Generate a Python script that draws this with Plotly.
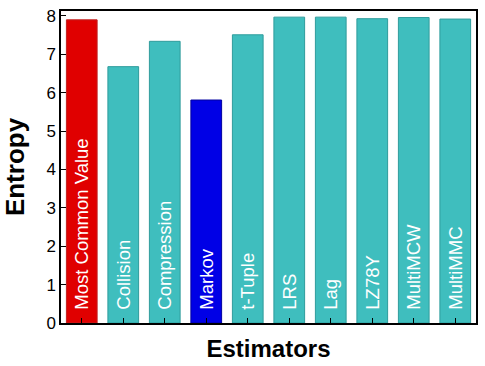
import plotly.graph_objects as go

categories = ["Most Common Value", "Collision", "Compression", "Markov", "t-Tuple",
              "LRS", "Lag", "LZ78Y", "MultiMCW", "MultiMMC"]
entropy = [7.90, 6.68, 7.34, 5.81, 7.51, 7.97, 7.97, 7.93, 7.96, 7.92]
bar_colors = ["#e00000", "#3fbebe", "#3fbebe", "#0000e6", "#3fbebe",
              "#3fbebe", "#3fbebe", "#3fbebe", "#3fbebe", "#3fbebe"]
line_colors = ["#c02020", "#2f9c9c", "#2f9c9c", "#0000a0", "#2f9c9c",
               "#2f9c9c", "#2f9c9c", "#2f9c9c", "#2f9c9c", "#2f9c9c"]
y_ticks = [0, 1, 2, 3, 4, 5, 6, 7, 8]

labels = ["\u00a0\u00a0" + c for c in categories]

fig = go.Figure(go.Bar(
    x=categories, y=entropy,
    marker=dict(color=bar_colors, line=dict(color=line_colors, width=1)),
    text=labels, textposition="inside", insidetextanchor="start",
    textangle=-90,
    textfont=dict(family="Liberation Sans, Arial, sans-serif", size=18.5, color="white"),
    cliponaxis=False,
))

fig.update_layout(
    width=485, height=366,
    margin=dict(l=61, r=7, t=10, b=43),
    paper_bgcolor="white", plot_bgcolor="white",
    bargap=0.26,
    showlegend=False,
    uniformtext=dict(minsize=18, mode="show"),
    font=dict(family="Liberation Sans, Arial, sans-serif", color="black"),
)
fig.update_xaxes(
    showticklabels=False, ticks="inside", ticklen=5, tickwidth=1, tickcolor="black",
    showline=True, linecolor="black", linewidth=1.5, mirror=True,
    title=dict(text="<b>Estimators</b>", font=dict(size=24), standoff=16),
)
fig.update_yaxes(
    range=[0, 8.13], tickvals=y_ticks, ticks="inside", ticklen=5, tickwidth=1,
    tickcolor="black", tickfont=dict(size=17),
    showline=True, linecolor="black", linewidth=1.5, mirror=True,
    showgrid=False, zeroline=False,
    title=dict(text="<b>Entropy</b>", font=dict(size=26), standoff=14),
)

fig.write_html("out.html")
